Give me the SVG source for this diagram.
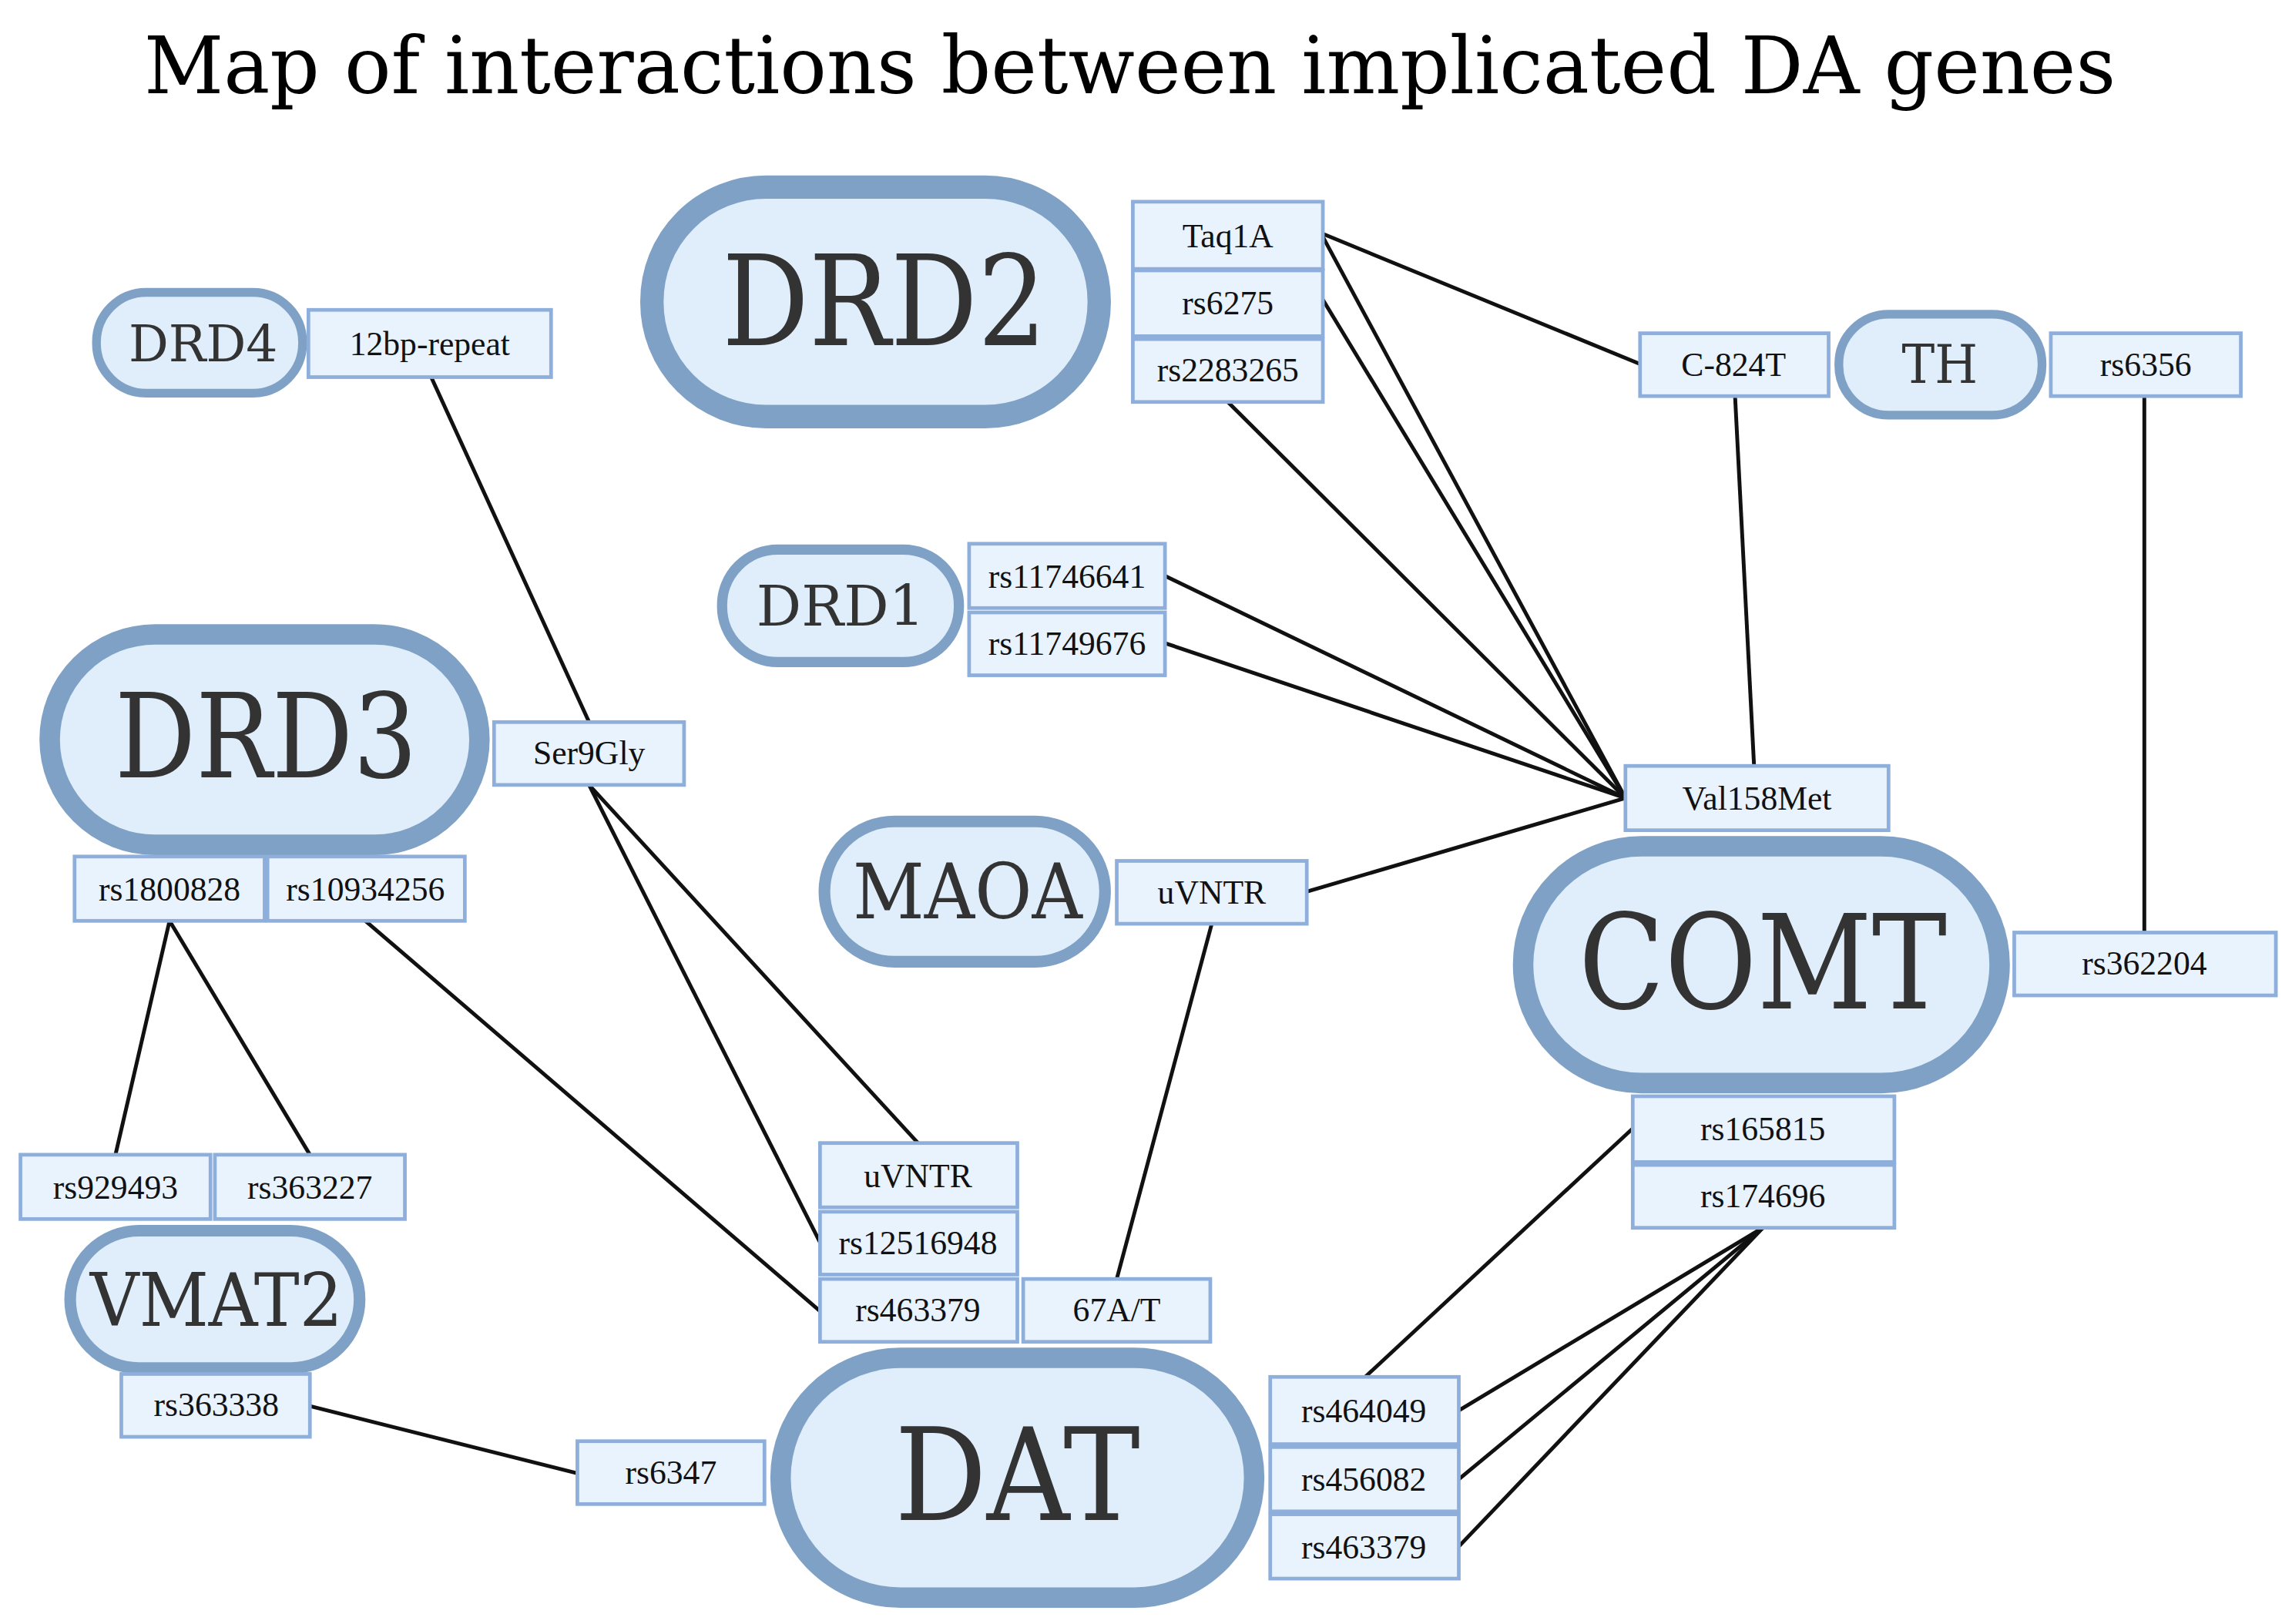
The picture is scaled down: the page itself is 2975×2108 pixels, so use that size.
<svg xmlns="http://www.w3.org/2000/svg" width="2975" height="2108" viewBox="0 0 2975 2108">
<style>
.pill{fill:#dfeefa;stroke:#7fa1c6}
.box{fill:#e9f3fd;stroke:#8eaedb;stroke-width:2.5}
.bt{font-family:"Liberation Serif",serif;font-size:23px;fill:#111;text-anchor:middle}
.pt{font-family:"DejaVu Serif",serif;fill:#333;text-anchor:middle}
.ln{stroke:#111;stroke-width:2.6;fill:none}
</style>
<rect width="2975" height="2108" fill="#fff"/>
<g transform="scale(1.8973)">
<text x="773" y="64" font-family="DejaVu Serif,serif" font-size="54" fill="#000" text-anchor="middle" textLength="1349" lengthAdjust="spacingAndGlyphs">Map of interactions between implicated DA genes</text>
<g id="connectors">
<line class="ln" x1="905" y1="160" x2="1122" y2="249"/>
<line class="ln" x1="905" y1="162" x2="1112" y2="546"/>
<line class="ln" x1="905" y1="205" x2="1112" y2="546"/>
<line class="ln" x1="840" y1="275" x2="1112" y2="546"/>
<line class="ln" x1="797" y1="394" x2="1112" y2="546"/>
<line class="ln" x1="797" y1="440" x2="1112" y2="546"/>
<line class="ln" x1="894" y1="610" x2="1112" y2="546"/>
<line class="ln" x1="1187" y1="271" x2="1200" y2="524"/>
<line class="ln" x1="1467" y1="271" x2="1467" y2="638"/>
<line class="ln" x1="295" y1="258" x2="403" y2="494"/>
<line class="ln" x1="403" y1="537" x2="628" y2="782"/>
<line class="ln" x1="403" y1="537" x2="561" y2="850"/>
<line class="ln" x1="250" y1="630" x2="561" y2="897"/>
<line class="ln" x1="116" y1="630" x2="79" y2="790"/>
<line class="ln" x1="116" y1="630" x2="212" y2="790"/>
<line class="ln" x1="829" y1="632" x2="764" y2="875"/>
<line class="ln" x1="212" y1="962" x2="395" y2="1008"/>
<line class="ln" x1="1117" y1="772" x2="934" y2="942"/>
<line class="ln" x1="1206" y1="840" x2="998" y2="965"/>
<line class="ln" x1="1206" y1="840" x2="998" y2="1012"/>
<line class="ln" x1="1206" y1="840" x2="998" y2="1058"/>
</g>
<g id="DRD2"><rect class="pill" x="446" y="128" width="306" height="157" rx="78" stroke-width="16"/><text class="pt" x="605" y="236" font-size="86" textLength="222" lengthAdjust="spacingAndGlyphs">DRD2</text></g>
<g id="DRD4"><rect class="pill" x="66" y="200" width="141" height="69" rx="34" stroke-width="6"/><text class="pt" x="139" y="247" font-size="34" textLength="102" lengthAdjust="spacingAndGlyphs">DRD4</text></g>
<g id="DRD1"><rect class="pill" x="494" y="376" width="162" height="77" rx="38" stroke-width="7"/><text class="pt" x="575" y="428" font-size="38" textLength="115" lengthAdjust="spacingAndGlyphs">DRD1</text></g>
<g id="DRD3"><rect class="pill" x="34" y="434" width="294" height="144" rx="72" stroke-width="14"/><text class="pt" x="182" y="532" font-size="80" textLength="207" lengthAdjust="spacingAndGlyphs">DRD3</text></g>
<g id="MAOA"><rect class="pill" x="564" y="562" width="192" height="96" rx="48" stroke-width="8"/><text class="pt" x="662" y="628" font-size="52" textLength="157" lengthAdjust="spacingAndGlyphs">MAOA</text></g>
<g id="TH"><rect class="pill" x="1258" y="215" width="139" height="69" rx="34" stroke-width="6"/><text class="pt" x="1327" y="262" font-size="36" textLength="52" lengthAdjust="spacingAndGlyphs">TH</text></g>
<g id="COMT"><rect class="pill" x="1042" y="579" width="326" height="162" rx="81" stroke-width="14"/><text class="pt" x="1206" y="690" font-size="90" textLength="252" lengthAdjust="spacingAndGlyphs">COMT</text></g>
<g id="VMAT2"><rect class="pill" x="48" y="842" width="198" height="94" rx="47" stroke-width="8"/><text class="pt" x="148" y="907" font-size="50" textLength="173" lengthAdjust="spacingAndGlyphs">VMAT2</text></g>
<g id="DAT"><rect class="pill" x="534" y="929" width="324" height="164" rx="82" stroke-width="14"/><text class="pt" x="696" y="1040" font-size="88" textLength="168" lengthAdjust="spacingAndGlyphs">DAT</text></g>
<g id="boxes">
<g id="b-taq1a"><rect class="box" x="775" y="138" width="130" height="46"/><text class="bt" x="840" y="169">Taq1A</text></g>
<g id="b-rs6275"><rect class="box" x="775" y="185" width="130" height="45"/><text class="bt" x="840" y="215">rs6275</text></g>
<g id="b-rs2283265"><rect class="box" x="775" y="232" width="130" height="43"/><text class="bt" x="840" y="261">rs2283265</text></g>
<g id="b-12bp"><rect class="box" x="211" y="212" width="166" height="46"/><text class="bt" x="294" y="243">12bp-repeat</text></g>
<g id="b-c824t"><rect class="box" x="1122" y="228" width="129" height="43"/><text class="bt" x="1186" y="257">C-824T</text></g>
<g id="b-rs6356"><rect class="box" x="1403" y="228" width="130" height="43"/><text class="bt" x="1468" y="257">rs6356</text></g>
<g id="b-rs11746641"><rect class="box" x="663" y="372" width="134" height="44"/><text class="bt" x="730" y="402">rs11746641</text></g>
<g id="b-rs11749676"><rect class="box" x="663" y="419" width="134" height="43"/><text class="bt" x="730" y="448">rs11749676</text></g>
<g id="b-ser9gly"><rect class="box" x="338" y="494" width="130" height="43"/><text class="bt" x="403" y="523">Ser9Gly</text></g>
<g id="b-val158met"><rect class="box" x="1112" y="524" width="180" height="44"/><text class="bt" x="1202" y="554">Val158Met</text></g>
<g id="b-rs1800828"><rect class="box" x="51" y="586" width="130" height="44"/><text class="bt" x="116" y="616">rs1800828</text></g>
<g id="b-rs10934256"><rect class="box" x="183" y="586" width="135" height="44"/><text class="bt" x="250" y="616">rs10934256</text></g>
<g id="b-maoa-uvntr"><rect class="box" x="764" y="589" width="130" height="43"/><text class="bt" x="829" y="618">uVNTR</text></g>
<g id="b-rs362204"><rect class="box" x="1378" y="638" width="179" height="43"/><text class="bt" x="1467" y="667">rs362204</text></g>
<g id="b-rs165815"><rect class="box" x="1117" y="750" width="179" height="45"/><text class="bt" x="1206" y="780">rs165815</text></g>
<g id="b-rs174696"><rect class="box" x="1117" y="797" width="179" height="43"/><text class="bt" x="1206" y="826">rs174696</text></g>
<g id="b-dat-uvntr"><rect class="box" x="561" y="782" width="135" height="44"/><text class="bt" x="628" y="812">uVNTR</text></g>
<g id="b-rs12516948"><rect class="box" x="561" y="829" width="135" height="43"/><text class="bt" x="628" y="858">rs12516948</text></g>
<g id="b-rs463379a"><rect class="box" x="561" y="875" width="135" height="43"/><text class="bt" x="628" y="904">rs463379</text></g>
<g id="b-67at"><rect class="box" x="700" y="875" width="128" height="43"/><text class="bt" x="764" y="904">67A/T</text></g>
<g id="b-rs929493"><rect class="box" x="14" y="790" width="130" height="44"/><text class="bt" x="79" y="820">rs929493</text></g>
<g id="b-rs363227"><rect class="box" x="147" y="790" width="130" height="44"/><text class="bt" x="212" y="820">rs363227</text></g>
<g id="b-rs363338"><rect class="box" x="83" y="940" width="129" height="43"/><text class="bt" x="148" y="969">rs363338</text></g>
<g id="b-rs6347"><rect class="box" x="395" y="986" width="128" height="43"/><text class="bt" x="459" y="1015">rs6347</text></g>
<g id="b-rs464049"><rect class="box" x="869" y="942" width="129" height="46"/><text class="bt" x="933" y="973">rs464049</text></g>
<g id="b-rs456082"><rect class="box" x="869" y="990" width="129" height="44"/><text class="bt" x="933" y="1020">rs456082</text></g>
<g id="b-rs463379b"><rect class="box" x="869" y="1036" width="129" height="44"/><text class="bt" x="933" y="1066">rs463379</text></g>
</g>
</g>
</svg>
